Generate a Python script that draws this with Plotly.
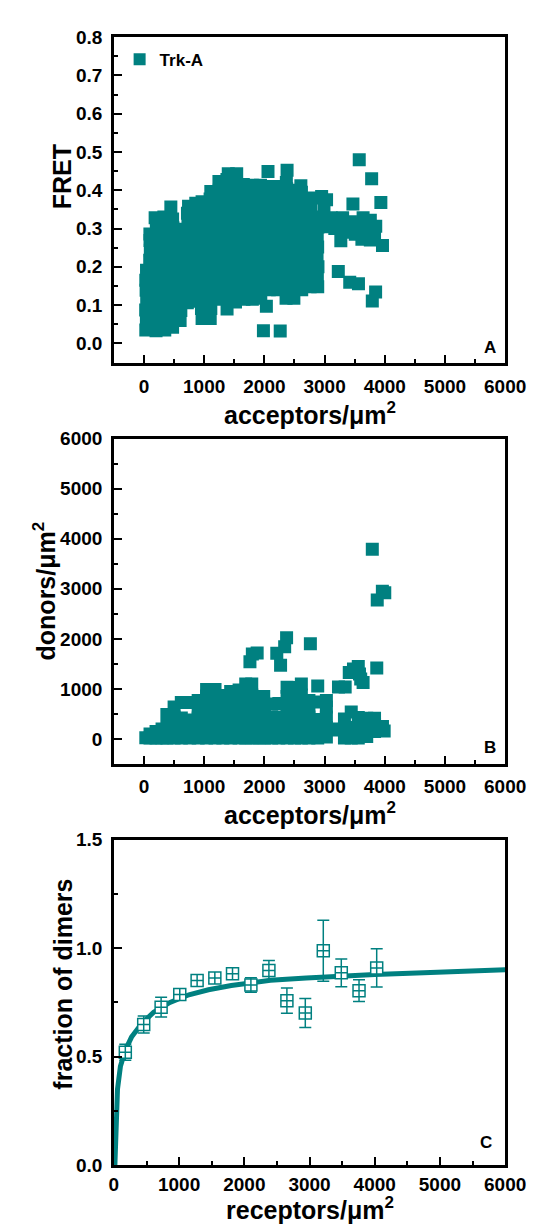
import plotly.graph_objects as go

TEAL = '#008080'
FONT = 'Liberation Sans, Arial, sans-serif'

# ---------------- Panel A: FRET vs acceptors ----------------
acc_A = [30, 40, 28, 45, 35, 30, 42,
         95, 105, 100, 98,
         200, 215, 205, 220, 210, 198, 215, 205, 212, 200, 218, 205, 185,
         345, 360, 350, 340, 355, 362, 348, 352, 340, 358, 350, 345, 330,
         475, 490, 480, 470, 485, 492, 478, 482, 470, 488, 480, 475, 446,
         600, 612, 595, 605, 590, 610, 600, 595, 608, 600,
         720, 730, 715, 725, 712, 728, 720, 715, 730, 722, 740,
         840, 850, 835, 845, 832, 848, 840, 835, 850, 842, 860,
         965, 955, 970, 960, 950, 968, 958, 962, 950, 970, 960, 955, 965,
         1100, 1110, 1095, 1105, 1090, 1110, 1100, 1095, 1108, 1100, 1092, 1105, 1098, 1110,
         1240, 1250, 1235, 1245, 1232, 1248, 1240, 1235, 1250, 1242, 1238, 1250, 1245,
         1380, 1390, 1375, 1385, 1372, 1388, 1380, 1375, 1390, 1382, 1378, 1390, 1385, 1378, 1400,
         1520, 1530, 1515, 1525, 1512, 1528, 1520, 1515, 1530, 1522, 1518, 1530, 1525, 1540,
         1660, 1670, 1655, 1665, 1652, 1668, 1660, 1655, 1670, 1662, 1658, 1670, 1650,
         1800, 1810, 1795, 1805, 1792, 1808, 1800, 1795, 1810, 1802, 1798, 1810, 1800,
         1940, 1950, 1935, 1945, 1932, 1948, 1940, 1935, 1950, 1942, 1938, 1945, 1935,
         2081, 2090, 2075, 2085, 2072, 2088, 2080, 2075, 2090, 2082, 2078, 2070, 2060,
         2220, 2230, 2215, 2225, 2212, 2228, 2220, 2215, 2230, 2222, 2218, 2225,
         2360, 2370, 2355, 2365, 2352, 2368, 2360, 2355, 2370, 2362, 2358, 2370, 2365, 2377,
         2490, 2500, 2485, 2495, 2482, 2498, 2490, 2485, 2500, 2492, 2488, 2495,
         2620, 2630, 2615, 2625, 2612, 2628, 2620, 2615, 2630, 2622, 2606, 2615,
         2760, 2770, 2755, 2765, 2752, 2768, 2760, 2755, 2770, 2787,
         2886, 2880, 2890, 2875, 2885, 2878, 2890, 2880,
         2951, 3033, 2990, 3010, 3070, 3110,
         3170, 3150, 3270, 3290, 3300, 3420, 3430, 3471, 3510, 3560, 3620, 3640,
         3700, 3760, 3760, 3850, 3830, 3962,
         3576, 3782, 3935, 3228, 3418, 3563, 3848, 3793, 2033, 1984, 2263]
fret_A = [0.035, 0.061, 0.087, 0.113, 0.139, 0.165, 0.191,
          0.217, 0.243, 0.269, 0.286,
          0.033, 0.059, 0.085, 0.111, 0.137, 0.163, 0.189, 0.215, 0.241, 0.267, 0.293, 0.318, 0.328,
          0.035, 0.061, 0.087, 0.113, 0.139, 0.165, 0.191, 0.217, 0.243, 0.269, 0.295, 0.321, 0.330,
          0.042, 0.068, 0.094, 0.120, 0.146, 0.172, 0.198, 0.224, 0.250, 0.276, 0.302, 0.325, 0.356,
          0.060, 0.086, 0.112, 0.138, 0.164, 0.190, 0.216, 0.242, 0.268, 0.298,
          0.106, 0.132, 0.158, 0.184, 0.210, 0.236, 0.262, 0.288, 0.314, 0.340, 0.358,
          0.110, 0.136, 0.162, 0.188, 0.214, 0.240, 0.266, 0.292, 0.318, 0.344, 0.366,
          0.065, 0.091, 0.117, 0.143, 0.169, 0.195, 0.221, 0.247, 0.273, 0.299, 0.325, 0.351, 0.370,
          0.065, 0.091, 0.117, 0.143, 0.169, 0.195, 0.221, 0.247, 0.273, 0.299, 0.325, 0.351, 0.377, 0.397,
          0.115, 0.141, 0.167, 0.193, 0.219, 0.245, 0.271, 0.297, 0.323, 0.349, 0.375, 0.401, 0.423,
          0.090, 0.116, 0.142, 0.168, 0.194, 0.220, 0.246, 0.272, 0.298, 0.324, 0.350, 0.376, 0.402, 0.428, 0.443,
          0.108, 0.134, 0.160, 0.186, 0.212, 0.238, 0.264, 0.290, 0.316, 0.342, 0.368, 0.394, 0.420, 0.443,
          0.115, 0.141, 0.167, 0.193, 0.219, 0.245, 0.271, 0.297, 0.323, 0.349, 0.375, 0.401, 0.415,
          0.115, 0.141, 0.167, 0.193, 0.219, 0.245, 0.271, 0.297, 0.323, 0.349, 0.375, 0.401, 0.413,
          0.118, 0.144, 0.170, 0.196, 0.222, 0.248, 0.274, 0.300, 0.326, 0.352, 0.378, 0.404, 0.413,
          0.140, 0.166, 0.192, 0.218, 0.244, 0.270, 0.296, 0.322, 0.348, 0.374, 0.400, 0.410, 0.449,
          0.140, 0.166, 0.192, 0.218, 0.244, 0.270, 0.296, 0.322, 0.348, 0.374, 0.400, 0.410,
          0.118, 0.144, 0.170, 0.196, 0.222, 0.248, 0.274, 0.300, 0.326, 0.352, 0.378, 0.404, 0.420, 0.452,
          0.118, 0.144, 0.170, 0.196, 0.222, 0.248, 0.274, 0.300, 0.326, 0.352, 0.378, 0.400,
          0.140, 0.166, 0.192, 0.218, 0.244, 0.270, 0.296, 0.322, 0.348, 0.374, 0.412, 0.395,
          0.148, 0.174, 0.200, 0.226, 0.252, 0.278, 0.304, 0.330, 0.356, 0.380,
          0.148, 0.174, 0.200, 0.226, 0.252, 0.278, 0.304, 0.330,
          0.384, 0.375, 0.350, 0.322, 0.305, 0.328,
          0.300, 0.325, 0.268, 0.300, 0.328, 0.290, 0.318, 0.364, 0.285, 0.312, 0.272, 0.328,
          0.300, 0.270, 0.322, 0.306, 0.280, 0.256,
          0.480, 0.430, 0.368, 0.188, 0.160, 0.156, 0.134, 0.111, 0.097, 0.033, 0.032]

# ---------------- Panel B: donors vs acceptors ----------------
acc_B = [30, 100, 100, 200, 200, 300, 300, 380, 380, 380,
         500, 500, 500, 500, 620, 620, 620, 620, 760, 760, 760, 760,
         900, 900, 900, 900, 900,
         1040, 1040, 1040, 1040, 1040, 1040, 1180, 1180, 1180, 1180, 1180, 1180,
         1310, 1310, 1310, 1310, 1310,
         1440, 1440, 1440, 1440, 1440, 1440, 1580, 1580, 1580, 1580, 1580, 1580,
         1690, 1690, 1690, 1690, 1690, 1690, 1790, 1790, 1790, 1790, 1790, 1790,
         1910, 1910, 1910, 1910, 2000, 2000, 2000, 2000, 1989,
         2120, 2120, 2120, 2120, 2240, 2240, 2240, 2240,
         2377, 2377, 2377, 2377, 2377, 2377, 2500, 2500, 2500, 2500, 2500, 2500,
         2614, 2614, 2614, 2614, 2614, 2614, 2740, 2740, 2740, 2740, 2740,
         2886, 2886, 2886, 2886, 2886, 3030, 3030, 3030, 3030, 3030,
         3140, 3230, 3231, 3342, 3330, 3330, 3330, 3443, 3443, 3443,
         3560, 3560, 3560, 3700, 3700, 3700, 3830, 3830, 3830, 3962, 3990,
         3410, 3480, 3560, 3580, 3600, 3640, 3867, 3793, 3875, 3960, 4000,
         1760, 1800, 1880, 2206, 2269, 2337, 2369, 2764]
don_B = [25, 20, 100, 20, 150, 20, 200, 20, 230, 490,
         20, 230, 440, 640, 20, 230, 420, 730, 20, 230, 380, 730,
         20, 230, 420, 620, 770,
         20, 230, 440, 650, 860, 990, 20, 230, 440, 650, 860, 990,
         20, 230, 440, 660, 870,
         20, 230, 440, 660, 870, 950, 20, 230, 440, 660, 880, 980,
         20, 230, 440, 660, 880, 1100, 20, 230, 440, 660, 880, 1100,
         20, 230, 440, 640, 20, 230, 440, 640, 850,
         20, 230, 440, 700, 20, 230, 440, 710,
         20, 230, 440, 650, 850, 1032, 20, 230, 440, 650, 850, 1029,
         20, 230, 440, 650, 880, 1100, 20, 230, 440, 650, 770,
         20, 230, 390, 740, 1061, 40, 230, 440, 640, 770,
         200, 182, 1041, 1041, 20, 210, 400, 20, 230, 541,
         20, 230, 430, 50, 230, 416, 150, 300, 416, 248, 160,
         1330, 1400, 1450, 1300, 1200, 1130, 1419, 3791, 2775, 2950, 2920,
         1545, 1700, 1720, 1712, 1471, 1843, 2022, 1901]

# ---------------- Panel C: fraction of dimers ----------------
rec_C = [175, 457, 724, 1010, 1276, 1548, 1819, 2101, 2377, 2653, 2935, 3211, 3487, 3759, 4030]
frac_C = [0.520, 0.648, 0.728, 0.786, 0.851, 0.862, 0.882, 0.830, 0.897, 0.758, 0.701, 0.988, 0.886, 0.804, 0.909]
err_C = [0.037, 0.039, 0.046, 0.022, 0.025, 0.022, 0.022, 0.033, 0.046, 0.058, 0.067, 0.141, 0.064, 0.050, 0.088]

fit_x = [15, 30, 55, 100, 175, 270, 420, 610, 860, 1150, 1450, 1800, 2100, 2400, 2950, 3500, 4000, 4750, 5400, 6000]
fit_y = [0.0, 0.20, 0.35, 0.455, 0.53, 0.59, 0.65, 0.705, 0.75, 0.785, 0.808, 0.828, 0.842, 0.852, 0.862, 0.872, 0.879, 0.887, 0.893, 0.900]

# ---------------- figure ----------------
W, H = 541, 1228
XL, XR = 106, 517
PANELS = {'A': (19.5, 350.5), 'B': (428, 759), 'C': (836, 1167)}


def ydom(top, bot):
    return [1 - bot / H, 1 - top / H]


def py(p):  # pixel row -> paper y
    return 1 - p / H


def px(p):  # pixel column -> paper x
    return p / W


xdom = [XL / W, XR / W]

fig = go.Figure()
fig.add_trace(go.Scatter(x=acc_A, y=fret_A, mode='markers', name='Trk-A',
                         marker=dict(symbol='square', size=13, color=TEAL),
                         xaxis='x', yaxis='y'))
fig.add_trace(go.Scatter(x=acc_B, y=don_B, mode='markers', showlegend=False,
                         marker=dict(symbol='square', size=13, color=TEAL),
                         xaxis='x2', yaxis='y2'))
fig.add_trace(go.Scatter(x=fit_x, y=fit_y, mode='lines', showlegend=False,
                         line=dict(color=TEAL, width=5),
                         xaxis='x3', yaxis='y3'))
fig.add_trace(go.Scatter(x=rec_C, y=frac_C, mode='markers', showlegend=False,
                         marker=dict(symbol='square-cross', size=12, color='white',
                                     line=dict(color=TEAL, width=1.5)),
                         error_y=dict(type='data', array=err_C, color=TEAL,
                                      thickness=1.5, width=6),
                         xaxis='x3', yaxis='y3'))

tickfont = dict(family=FONT, size=19, color='black', weight='bold')
titlefont = dict(family=FONT, size=25, color='black', weight='bold')


def axis(**kw):
    d = dict(showline=True, linewidth=2.5, linecolor='black', mirror=True,
             ticks='inside', ticklen=8, tickwidth=2, tickcolor='black',
             showgrid=False, zeroline=False, tickfont=tickfont,
             ticklabelstandoff=5)
    d.update(kw)
    return d


minor_x = dict(ticks='inside', ticklen=4, tickwidth=2, dtick=500, tick0=0, tickcolor='black')

fig.update_layout(
    width=W, height=H, autosize=False,
    margin=dict(l=0, r=0, t=0, b=0),
    paper_bgcolor='white', plot_bgcolor='white',
    showlegend=True,
    legend=dict(x=112 / W, y=1 - 24 / H, xanchor='left', yanchor='top',
                font=dict(family=FONT, size=17, color='black', weight='bold'),
                bgcolor='rgba(0,0,0,0)', itemsizing='constant'),
    xaxis=axis(domain=xdom, anchor='y', range=[-500, 6000], dtick=1000, tick0=0,
               minor=minor_x),
    yaxis=axis(domain=ydom(*PANELS['A']), anchor='x', range=[-0.05, 0.8], dtick=0.1, tick0=0,
               tickformat='.1f',
               minor=dict(ticks='inside', ticklen=4, tickwidth=2, dtick=0.05, tick0=0, tickcolor='black')),
    xaxis2=axis(domain=xdom, anchor='y2', range=[-500, 6000], dtick=1000, tick0=0,
                minor=minor_x, ticklabelstandoff=3),
    yaxis2=axis(domain=ydom(*PANELS['B']), anchor='x2', range=[-500, 6000], dtick=1000, tick0=0,
                minor=dict(ticks='inside', ticklen=4, tickwidth=2, dtick=500, tick0=0, tickcolor='black')),
    xaxis3=axis(domain=xdom, anchor='y3', range=[0, 6000], dtick=1000, tick0=0,
                minor=minor_x, ticklabelstandoff=0),
    yaxis3=axis(domain=ydom(*PANELS['C']), anchor='x3', range=[0, 1.5], dtick=0.5, tick0=0,
                tickformat='.1f',
                minor=dict(ticks='inside', ticklen=4, tickwidth=2, dtick=0.25, tick0=0, tickcolor='black')),
)

SUP2 = '<sup><span style="font-size:17px">2</span></sup>'
xmid = (XL + XR) / 2
# axis titles (x: bottom-anchored just below baseline; y: rotated, centred)
titles = [
    ('acceptors/μm' + SUP2, xmid, 419, 0, 'bottom'),
    ('acceptors/μm' + SUP2, xmid, 826, 0, 'bottom'),
    ('receptors/μm' + SUP2, xmid, 1227.5, 0, 'bottom'),
    ('FRET', 51.5, 162, -90, 'middle'),
    ('donors/μm' + SUP2, 33, 583, -90, 'middle'),
    ('fraction of dimers', 53, 983, -90, 'middle'),
]
for txt, xx, yy, ang, ya in titles:
    fig.add_annotation(text=txt, xref='paper', yref='paper', x=px(xx), y=py(yy),
                       showarrow=False, textangle=ang, xanchor='center', yanchor=ya,
                       font=titlefont, borderpad=0)

labfont = dict(family=FONT, size=17, color='black', weight='bold')
for lab, xr, yr, xx, yy in [('A', 'x domain', 'y domain', 0.962, 0.045),
                            ('B', 'x2 domain', 'y2 domain', 0.962, 0.05),
                            ('C', 'x3 domain', 'y3 domain', 0.95, 0.07)]:
    fig.add_annotation(text=lab, xref=xr, yref=yr, x=xx, y=yy, showarrow=False,
                       xanchor='center', yanchor='middle', font=labfont)

fig.write_html('out.html')
